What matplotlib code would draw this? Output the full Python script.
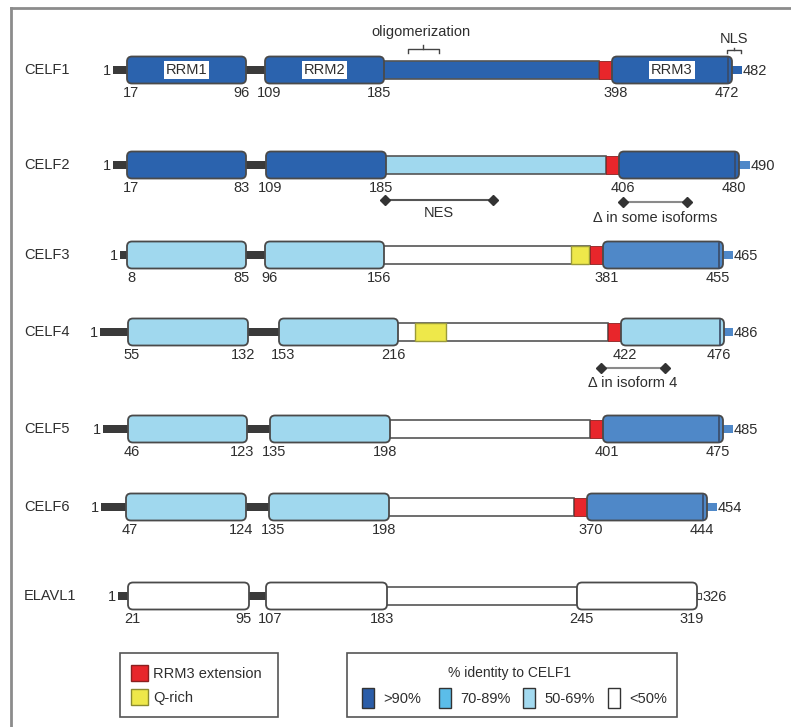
import matplotlib
matplotlib.use('Agg')
import matplotlib.pyplot as plt
from matplotlib.patches import FancyBboxPatch, Rectangle
import numpy as np

plt.rcParams['font.family'] = ['Liberation Sans', 'DejaVu Sans']

# ---------------- data ----------------
proteins = ['CELF1', 'CELF2', 'CELF3', 'CELF4', 'CELF5', 'CELF6', 'ELAVL1']
lengths = [482, 490, 465, 486, 485, 454, 326]
rrm1_start = [17, 17, 8, 55, 46, 47, 21]
rrm1_end = [96, 83, 85, 132, 123, 124, 95]
rrm2_start = [109, 109, 96, 153, 135, 135, 107]
rrm2_end = [185, 185, 156, 216, 198, 198, 183]
rrm3_start = [398, 406, 381, 422, 401, 370, 245]
rrm3_end = [472, 480, 455, 476, 475, 444, 319]
# identity class: 0 >90%, 1 70-89%, 2 50-69%, 3 <50%
rrm1_ident = [0, 0, 2, 2, 2, 2, 3]
rrm2_ident = [0, 0, 2, 2, 2, 2, 3]
mid_ident = [0, 2, 3, 3, 3, 3, 3]
rrm3_ident = [0, 0, 1, 2, 1, 1, 3]
tail_ident = [0, 1, 1, 1, 1, 1, 3]
has_ext = [True, True, True, True, True, True, False]
has_qrich = [False, False, True, True, False, False, False]
identity_labels = ['>90%', '70-89%', '50-69%', '<50%']
feature_labels = ['RRM3 extension', 'Q-rich']
legend_title = '% identity to CELF1'

# ---------------- layout (schematic, pixel units) ----------------
W, H = 791, 727
row_y = [70, 165, 255, 332, 429, 507, 596]
x_lead = [113, 113, 120, 100, 103, 101, 118]
x_rrm1 = [(127, 246), (127, 246), (127, 246), (128, 248), (128, 247), (126, 246), (128, 249)]
x_rrm2 = [(265, 384), (266, 386), (265, 384), (279, 398), (270, 390), (269, 389), (266, 387)]
x_rrm3 = [(612, 732), (619, 739), (603, 723), (621, 724), (603, 723), (587, 707), (577, 697)]
x_tail = [742, 750, 733, 733, 733, 717, 701]
qrich_x = {2: (571, 589), 3: (415, 446)}
ext_w = 13

dom_colors = ['#2B63AE', '#4F88C8', '#A0D8EE', '#FFFFFF']
tail_colors = ['#2B63AE', '#4F88C8', '#A0D8EE', '#FFFFFF']
leg_colors = ['#2B5DA8', '#5BBDE9', '#A3DAF0', '#FFFFFF']
RED = '#E8262B'
YEL = '#EEE84A'
EDGE = '#4A4A4A'
LINK = '#3A3A3A'
TXT = '#2E2E2E'

fig = plt.figure(figsize=(W / 100, H / 100), dpi=100)
ax = fig.add_axes([0, 0, 1, 1])
ax.set_xlim(0, W)
ax.set_ylim(H, 0)
ax.axis('off')

# frame
ax.plot([11, W], [8, 8], color='#8C8C8C', lw=2)
ax.plot([11, 11], [8, H], color='#8C8C8C', lw=2)

BOX_H = 27
MID_H = 18
LNK_H = 8
FS = 10.5

for i, name in enumerate(proteins):
    y = row_y[i]
    res = [1, rrm1_start[i], rrm1_end[i], rrm2_start[i], rrm2_end[i],
           rrm3_start[i], rrm3_end[i], lengths[i]]
    px = [x_lead[i], x_rrm1[i][0], x_rrm1[i][1], x_rrm2[i][0], x_rrm2[i][1],
          x_rrm3[i][0], x_rrm3[i][1], x_tail[i]]

    def X(r):
        return float(np.interp(r, res, px))

    ax.text(24, y, name, ha='left', va='center', fontsize=FS, color=TXT)

    # N-terminal linker
    ax.add_patch(Rectangle((X(1), y - LNK_H / 2), X(rrm1_start[i]) - X(1) + 2, LNK_H,
                           facecolor=LINK, edgecolor='none', zorder=1))
    ax.text(X(1) - 2, y + 1, '1', ha='right', va='center', fontsize=FS, color=TXT)
    # linker between RRM1 and RRM2
    ax.add_patch(Rectangle((X(rrm1_end[i]) - 2, y - LNK_H / 2),
                           X(rrm2_start[i]) - X(rrm1_end[i]) + 4, LNK_H,
                           facecolor=LINK, edgecolor='none', zorder=1))
    # middle region
    mid_end = X(rrm3_start[i]) - (ext_w if has_ext[i] else 0)
    ax.add_patch(Rectangle((X(rrm2_end[i]) - 3, y - MID_H / 2),
                           mid_end - X(rrm2_end[i]) + 3, MID_H,
                           facecolor=dom_colors[mid_ident[i]], edgecolor='#555555',
                           lw=1.2, zorder=2))
    # Q-rich
    if has_qrich[i]:
        q0, q1 = qrich_x[i]
        ax.add_patch(Rectangle((q0, y - MID_H / 2), q1 - q0, MID_H,
                               facecolor=YEL, edgecolor='#9A9A3A', lw=1, zorder=3))
    # RRM3 extension
    if has_ext[i]:
        ax.add_patch(Rectangle((mid_end, y - MID_H / 2), ext_w + 2, MID_H,
                               facecolor=RED, edgecolor='#8A2020', lw=0.6, zorder=3))
    # tail
    t0 = X(rrm3_end[i])
    if tail_ident[i] == 3:
        ax.add_patch(Rectangle((t0, y - 3), X(lengths[i]) - t0, 6,
                               facecolor='white', edgecolor=EDGE, lw=0.8, zorder=1))
    else:
        ax.add_patch(Rectangle((t0 - 2, y - 4), X(lengths[i]) - t0 + 2, 8,
                               facecolor=tail_colors[tail_ident[i]], edgecolor='none', zorder=1))
    ax.text(X(lengths[i]) + 1, y + 1, str(lengths[i]), ha='left', va='center',
            fontsize=FS, color=TXT)

    # RRM boxes
    for (s, e, idn) in [(rrm1_start[i], rrm1_end[i], rrm1_ident[i]),
                        (rrm2_start[i], rrm2_end[i], rrm2_ident[i]),
                        (rrm3_start[i], rrm3_end[i], rrm3_ident[i])]:
        x0, x1 = X(s), X(e)
        ax.add_patch(FancyBboxPatch((x0, y - BOX_H / 2), x1 - x0, BOX_H,
                                    boxstyle='round,pad=0,rounding_size=5',
                                    facecolor=dom_colors[idn], edgecolor=EDGE,
                                    lw=1.3, zorder=4))
        ax.text(x0 + 4, y + 23, str(s), ha='center', va='center', fontsize=FS, color=TXT)
        ax.text(x1 - 5, y + 23, str(e), ha='center', va='center', fontsize=FS, color=TXT)
    # inner line at RRM3 C-terminus
    if i < 6:
        xe = X(rrm3_end[i]) - 4
        ax.plot([xe, xe], [y - BOX_H / 2 + 1, y + BOX_H / 2 - 1], color='#3A4A66',
                lw=1.2, zorder=5)

    # RRM names on CELF1
    if i == 0:
        for k, (s, e) in enumerate([(rrm1_start[i], rrm1_end[i]),
                                    (rrm2_start[i], rrm2_end[i]),
                                    (rrm3_start[i], rrm3_end[i])]):
            ax.text((X(s) + X(e)) / 2, y, 'RRM%d' % (k + 1), ha='center', va='center',
                    fontsize=FS, color=TXT, zorder=6,
                    bbox=dict(facecolor='white', edgecolor='none', pad=1.5))

# oligomerization bracket
ax.text(421, 32, 'oligomerization', ha='center', va='center', fontsize=FS, color=TXT)
ax.plot([408, 408, 439, 439], [53, 49, 49, 53], color='#444444', lw=1)
ax.plot([423, 423], [49, 45], color='#444444', lw=1)
# NLS bracket
ax.text(734, 39, 'NLS', ha='center', va='center', fontsize=FS, color=TXT)
ax.plot([727, 727, 741, 741], [53, 50, 50, 53], color='#444444', lw=1)
ax.plot([734, 734], [50, 48], color='#444444', lw=1)

# range annotations
def span(x0, x1, y, label, ty, lc):
    ax.plot([x0, x1], [y, y], color=lc, lw=1.5, zorder=1)
    ax.plot([x0, x1], [y, y], ls='none', marker='D', ms=5, color='#333333', zorder=2)
    ax.text((x0 + x1) / 2, ty, label, ha='center', va='center', fontsize=FS, color=TXT)

span(385, 493, 200, 'NES', 213, '#555555')
span(623, 687, 202, '\u0394 in some isoforms', 218, '#8A8A8A')
span(601, 665, 368, '\u0394 in isoform 4', 383, '#8A8A8A')

# legend 1
ax.add_patch(Rectangle((120, 653), 158, 64, facecolor='white', edgecolor='#555555', lw=1.2))
for k, (c, ec, lab) in enumerate([(RED, '#8A2020', feature_labels[0]),
                                  (YEL, '#8A8A30', feature_labels[1])]):
    yy = 673 + k * 24
    ax.add_patch(Rectangle((131, yy - 8), 17, 16, facecolor=c, edgecolor=ec, lw=1))
    ax.text(153, yy + 1, lab, ha='left', va='center', fontsize=FS, color=TXT)

# legend 2
ax.add_patch(Rectangle((347, 653), 330, 64, facecolor='white', edgecolor='#555555', lw=1.2))
ax.text(509, 673, legend_title, ha='center', va='center', fontsize=FS - 0.5, color=TXT)
sw_x = [362, 439, 523, 608]
for k, lab in enumerate(identity_labels):
    ax.add_patch(Rectangle((sw_x[k], 688), 12, 20, facecolor=leg_colors[k],
                           edgecolor='#333333', lw=1))
    ax.text(sw_x[k] + 21, 699, lab, ha='left', va='center', fontsize=FS, color=TXT)

fig.savefig('out.png', dpi=100)
